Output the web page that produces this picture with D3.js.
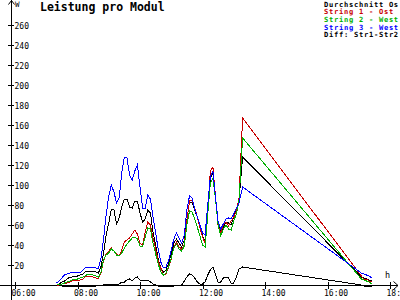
<!DOCTYPE html>
<html>
<head>
<meta charset="utf-8">
<script src="https://cdn.jsdelivr.net/npm/d3@7"></script>
<style>
  html, body { margin: 0; padding: 0; background: #fff; }
  svg { display: block; }
  text { font-family: "DejaVu Sans Mono", "Liberation Mono", monospace; }
</style>
</head>
<body>
<div class="chart"></div>
<script>
// sample times (5 min steps, gap after 13:17)
const times = [
  "07:20","07:25","07:30","07:35","07:40","07:45","07:50","07:55",
  "08:00","08:05","08:10","08:15","08:20","08:25","08:30","08:35","08:40","08:45","08:50","08:55",
  "09:00","09:05","09:10","09:15","09:20","09:25","09:30","09:35","09:40","09:45","09:50","09:55",
  "10:00","10:05","10:10","10:15","10:20","10:25","10:30","10:35","10:40","10:45","10:50","10:55",
  "11:00","11:05","11:10","11:15","11:20","11:25","11:30","11:35","11:40","11:45","11:50","11:55",
  "12:00","12:05","12:10","12:15","12:20","12:25","12:30","12:35","12:40","12:45","12:50","12:55",
  "13:00","13:05","13:10","13:17",
  "17:05","17:10","17:15","17:20","17:25"
]

const durchschnitt = [
  0,1,3,4,6,8,8,9,
  9,10,11,13,14,14,14,13,12,18,32,50,
  62,76,75,61,67,78,86,86,78,77,84,84,
  72,63,66,75,72,53,40,26,17,13,15,22,
  31,42,46,42,38,45,65,83,83,75,68,58,
  49,43,72,106,112,88,63,53,58,63,62,60,
  68,75,84,128,
  8,7,6,5,4
]
const string1 = [
  0,0,1,2,2,3,4,5,
  5,5,6,8,9,9,8,7,7,12,24,31,
  34,37,34,31,29,35,43,45,47,51,55,51,
  42,40,53,63,60,47,36,24,17,10,11,18,
  26,38,43,38,36,40,64,84,85,77,68,57,
  48,42,72,114,118,88,59,52,60,63,59,64,
  68,74,86,167,
  9,6,6,4,3
]
const string2 = [
  0,1,1,2,3,4,5,6,
  6,7,8,9,11,11,10,9,8,13,25,30,
  32,36,34,30,29,32,37,41,44,47,48,46,
  39,39,48,57,56,42,31,21,13,10,12,19,
  27,37,41,36,34,39,60,74,73,66,58,49,
  40,38,70,102,107,86,60,49,56,60,56,55,
  64,71,84,147,
  6,5,4,3,1
]
const string3 = [
  2,4,7,10,11,12,13,13,
  13,12,15,17,18,18,18,17,17,26,46,70,
  89,100,93,82,87,112,128,127,110,105,114,120,
  98,77,77,90,86,68,52,36,23,17,18,25,
  35,46,52,47,42,50,75,89,87,76,68,60,
  52,50,80,108,114,88,63,56,61,66,67,66,
  71,77,82,98,
  12,11,10,9,7
]
const diff = [
  0,0,-1,-1,-1,-1,-1,-1,
  -1,-1,-1,-1,-1,-1,-1,-1,0,0,0,1,
  1,1,1,1,1,3,3,5,6,4,7,8,
  5,5,5,5,3,1,0,-1,-1,-1,-1,-1,
  -1,-1,0,0,0,4,8,11,10,7,3,1,
  1,3,10,15,18,10,3,3,7,8,7,2,
  2,8,16,18,
  0,-1,-1,-1,-1
]

const yTicks = [20,40,60,80,100,120,140,160,180,200,220,240,260]
const xTicks = ["06:00","08:00","10:00","12:00","14:00","16:00","18:00"]
const legendLabels = ["Durchschnitt Os","String 1 - Ost","String 2 - West","String 3 - West","Diff: Str1-Str2"]
const colors = ["#000000","#c80000","#00b000","#0000ff","#000000"]

const width = 400, height = 300

const svg = d3.select(".chart")
  .append("svg")
  .attr("width", width)
  .attr("height", height)

const parseTime = d3.timeParse("%H:%M")

const x = d3.scaleTime()
  .domain([parseTime("06:00"), parseTime("18:00")])
  .range([15, 390])

const y = d3.scaleLinear()
  .domain([0, 260])
  .range([285, 25])

// title
svg.append("text")
  .attr("x", 40)
  .attr("y", 11)
  .attr("font-size", "11.5px")
  .attr("font-weight", "bold")
  .text("Leistung pro Modul")

// y axis
const yAxis = svg.append("g")
  .attr("transform", "translate(8,0)")
  .call(d3.axisRight(y).tickValues(yTicks).tickSize(6).tickPadding(0.5))
yAxis.select(".domain").remove()
yAxis.selectAll("line").attr("stroke", "#000").attr("shape-rendering", "crispEdges")
yAxis.selectAll("text")
  .attr("font-family", "DejaVu Sans Mono")
  .attr("font-size", "8px")
  .attr("fill", "#000")
  .attr("dy", "0.4em")

// x axis
const xAxis = svg.append("g")
  .attr("transform", "translate(0,282)")
  .call(d3.axisBottom(x)
    .tickValues(xTicks.map(parseTime))
    .tickFormat(d3.timeFormat("%H:%M"))
    .tickSize(7))
xAxis.select(".domain").remove()
xAxis.selectAll("line").attr("stroke", "#000").attr("shape-rendering", "crispEdges")
xAxis.selectAll("text")
  .attr("font-family", "DejaVu Sans Mono")
  .attr("font-size", "8px")
  .attr("fill", "#000")
  .attr("text-anchor", "start")
  .attr("x", -4)
  .attr("y", 13.5)
  .attr("dy", null)

// axis lines + arrows
const axisStyle = g => g.attr("fill", "none").attr("stroke", "#000").attr("stroke-width", 1)
svg.append("path").call(axisStyle).attr("shape-rendering", "crispEdges")
  .attr("d", `M11.5,0V300M0,${y(0) + 0.5}H398`)
svg.append("path").call(axisStyle)
  .attr("d", "M8.5,4.5L11.5,0.5L14.5,4.5")
svg.append("path").call(axisStyle)
  .attr("d", `M393.5,${y(0) - 3.5}L398,${y(0) + 0.5}L393.5,${y(0) + 4.5}`)

svg.append("text").attr("x", 15).attr("y", 7).attr("font-size", "7.5px").text("W")
svg.append("text").attr("x", 385).attr("y", 278).attr("font-size", "8.5px").text("h")

// series
const seriesList = [durchschnitt, string1, string2, string3, diff]
const drawOrder = [4, 0, 1, 2, 3]

const line = d3.line()
  .x((d, i) => x(parseTime(times[i])))
  .y(d => y(d))

drawOrder.forEach(k => {
  svg.append("path")
    .datum(seriesList[k])
    .attr("fill", "none")
    .attr("stroke", colors[k])
    .attr("stroke-width", 1)
    .attr("shape-rendering", "crispEdges")
    .attr("d", line)
})

// legend (small font, spaced out to keep the 5px character pitch)
legendLabels.forEach((label, i) => {
  svg.append("text")
    .attr("x", 324)
    .attr("y", 6.5 + i * 7.7)
    .attr("font-size", "7.1px")
    .attr("letter-spacing", "0.72px")
    .attr("font-weight", "bold")
    .attr("fill", colors[i])
    .text(label)
})
</script>
</body>
</html>
